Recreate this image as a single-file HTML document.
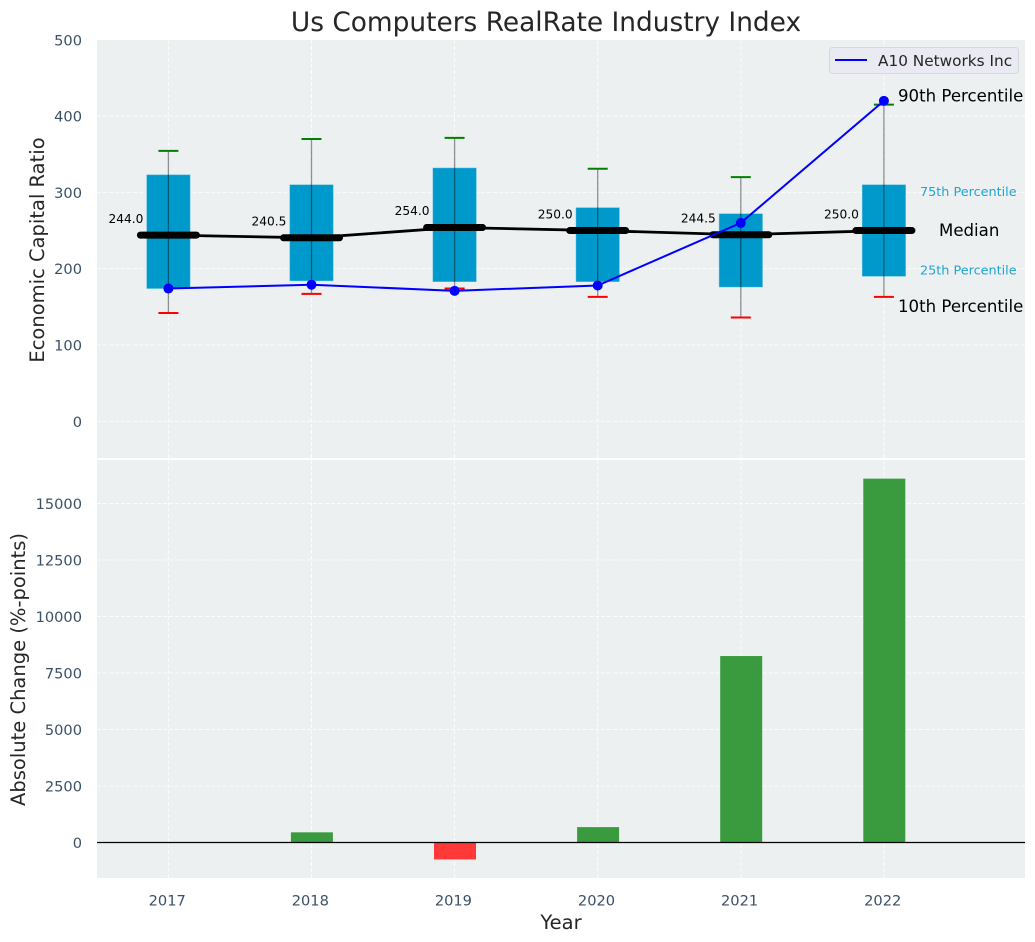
<!DOCTYPE html>
<html>
<head>
<meta charset="utf-8">
<style>
html,body{margin:0;padding:0;background:#fff;}
svg{display:block;}
text{font-family:"DejaVu Sans","Liberation Sans",sans-serif;}
</style>
</head>
<body>
<svg id="chart" xmlns="http://www.w3.org/2000/svg" width="1035" height="942" viewBox="0 0 1035 942"></svg>
<script>
const years = [2017, 2018, 2019, 2020, 2021, 2022];
const p10 = [142, 167, 174, 163, 136, 163];
const p25 = [174, 184, 183, 183, 176, 190];
const medians = [244.0, 240.5, 254.0, 250.0, 244.5, 250.0];
const p75 = [323, 310, 332, 280, 272, 310];
const p90 = [354.5, 370, 371.5, 331, 320, 415];
const company = [174, 179, 171, 178, 260, 420];
const changes = [0, 450, -750, 680, 8250, 16100];
const topTicks = [0, 100, 200, 300, 400, 500];
const bottomTicks = [0, 2500, 5000, 7500, 10000, 12500, 15000];

const svg = document.getElementById('chart');
const NS = 'http://www.w3.org/2000/svg';
function mk(tag, attrs, parent, txt) {
  const el = document.createElementNS(NS, tag);
  for (const k in attrs) el.setAttribute(k, attrs[k]);
  if (txt !== undefined) el.textContent = txt;
  (parent || svg).appendChild(el);
  return el;
}
const L = 97, R = 1025, T1 = 40, B1 = 458, T2 = 460, B2 = 878;
const x = v => 168.4 + (v - 2017) * 143.1;
const y1 = v => 421.3 - v * 0.7630;
const y2 = v => 842.5 - v * 0.0226;
const tickColor = '#3a4f66', labelColor = '#262626', bg = '#ecf0f1';

/* panels */
const panelTop = mk('rect', {x: L, y: T1, width: R - L, height: B1 - T1, fill: bg});


const panelBottom = mk('rect', {x: L, y: T2, width: R - L, height: B2 - T2, fill: bg});



/* grids */
const gridAttrs = {stroke: '#fff', 'stroke-width': 1, 'stroke-dasharray': '4 2', opacity: 0.8};
const gridG = mk('g', gridAttrs);


topTicks.forEach(t => {
  if (y1(t) > T1 + 1) mk('line', {x1: L, x2: R, y1: y1(t), y2: y1(t)}, gridG);
});
bottomTicks.forEach(t => {
  mk('line', {x1: L, x2: R, y1: y2(t), y2: y2(t)}, gridG);
});
years.forEach(yr => {
  mk('line', {x1: x(yr), x2: x(yr), y1: T1, y2: B1}, gridG);
  mk('line', {x1: x(yr), x2: x(yr), y1: T2, y2: B2}, gridG);
});

/* tick labels */
topTicks.forEach(t => {
  const el = mk('text', {x: 82, y: y1(t) + 5.5, 'text-anchor': 'end', 'font-size': 14.6, fill: tickColor}, svg, String(t));
  
  
});
bottomTicks.forEach(t => {
  const el = mk('text', {x: 82, y: y2(t) + 5.5, 'text-anchor': 'end', 'font-size': 14.6, fill: tickColor}, svg, String(t));
  
  
});
years.forEach(yr => {
  const el = mk('text', {x: x(yr) - 1.2, y: 905.5, 'text-anchor': 'middle', 'font-size': 14.6, fill: tickColor}, svg, String(yr));
  
  
});

/* boxes */
years.forEach((yr, i) => {
  const box = mk('rect', {x: x(yr) - 21.7, y: y1(p75[i]), width: 43.4, height: y1(p25[i]) - y1(p75[i]), fill: '#0099cc', stroke: '#5cc0e0', 'stroke-width': 0.5});
  
  
});

/* whiskers */
years.forEach((yr, i) => {
  const w = mk('line', {x1: x(yr), x2: x(yr), y1: y1(p90[i]), y2: y1(p10[i]), stroke: '#000', 'stroke-opacity': 0.42, 'stroke-width': 1.3});
  
  
  const capHi = mk('line', {x1: x(yr) - 10, x2: x(yr) + 10, y1: y1(p90[i]), y2: y1(p90[i]), stroke: '#008000', 'stroke-width': 2});
  
  
  const capLo = mk('line', {x1: x(yr) - 10, x2: x(yr) + 10, y1: y1(p10[i]), y2: y1(p10[i]), stroke: '#ff0000', 'stroke-width': 2});
  
  
});

/* median line */
const medLine = mk('polyline', {points: years.map((yr, i) => x(yr) + ',' + y1(medians[i])).join(' '), fill: 'none', stroke: '#000', 'stroke-width': 2.8});


years.forEach((yr, i) => {
  const m = mk('line', {x1: x(yr) - 28, x2: x(yr) + 28, y1: y1(medians[i]), y2: y1(medians[i]), stroke: '#000', 'stroke-width': 7, 'stroke-linecap': 'round'});
  
  
  const lab = mk('text', {x: x(yr) - 42.5, y: y1(medians[i]) - 12.3, 'text-anchor': 'middle', 'font-size': 12.2, fill: '#000'}, svg, medians[i].toFixed(1));
  
  
});

/* company line */
const coLine = mk('polyline', {points: years.map((yr, i) => x(yr) + ',' + y1(company[i])).join(' '), fill: 'none', stroke: '#0000ff', 'stroke-width': 2});


years.forEach((yr, i) => {
  const d = mk('circle', {cx: x(yr), cy: y1(company[i]), r: 5, fill: '#0000ff'});
  
  
});

/* right-hand annotations */
const last = years.length - 1;
const a90 = mk('text', {x: 898, y: y1(p90[last]) - 3, 'font-size': 16.6, fill: '#000'}, svg, '90th Percentile');


const a10 = mk('text', {x: 898, y: y1(p10[last]) + 15, 'font-size': 16.6, fill: '#000'}, svg, '10th Percentile');


const a75 = mk('text', {x: 920, y: y1(p75[last]) + 11, 'font-size': 12.8, fill: '#1ea5d2'}, svg, '75th Percentile');


const a25 = mk('text', {x: 920, y: y1(p25[last]) - 2, 'font-size': 12.8, fill: '#1ea5d2'}, svg, '25th Percentile');


const aMed = mk('text', {x: 939, y: y1(medians[last]) + 5.5, 'font-size': 16.6, fill: '#000'}, svg, 'Median');



/* legend */
const legend = mk('g', {});


mk('rect', {x: 829.5, y: 47.5, width: 189, height: 26, rx: 3, fill: '#eaeaf2', stroke: '#d5d8dc', 'stroke-width': 1}, legend);
mk('line', {x1: 835, x2: 867, y1: 60, y2: 60, stroke: '#0000ff', 'stroke-width': 2}, legend);
mk('text', {x: 878, y: 66, 'font-size': 15.3, fill: labelColor}, legend, 'A10 Networks Inc');

/* bars */
years.forEach((yr, i) => {
  const v = changes[i];
  const top = Math.min(y2(v), y2(0));
  const h = Math.abs(y2(v) - y2(0));
  const b = mk('rect', {x: x(yr) - 20.6, y: top, width: 42, height: h, fill: v >= 0 ? '#3a9a3e' : '#ff3838'});
  
  
});
const zero = mk('line', {x1: L, x2: R, y1: y2(0), y2: y2(0), stroke: '#000', 'stroke-width': 1.2});



/* titles */
const title = mk('text', {x: 546, y: 31, 'text-anchor': 'middle', 'font-size': 26.4, fill: labelColor}, svg, 'Us Computers RealRate Industry Index');


const yt1 = mk('text', {transform: 'translate(44,250) rotate(-90)', 'text-anchor': 'middle', 'font-size': 19.5, fill: labelColor}, svg, 'Economic Capital Ratio');


const yt2 = mk('text', {transform: 'translate(25,669.5) rotate(-90)', 'text-anchor': 'middle', 'font-size': 19.5, fill: labelColor}, svg, 'Absolute Change (%-points)');


const xt = mk('text', {x: 561, y: 929, 'text-anchor': 'middle', 'font-size': 19.5, fill: labelColor}, svg, 'Year');


</script>
</body>
</html>
